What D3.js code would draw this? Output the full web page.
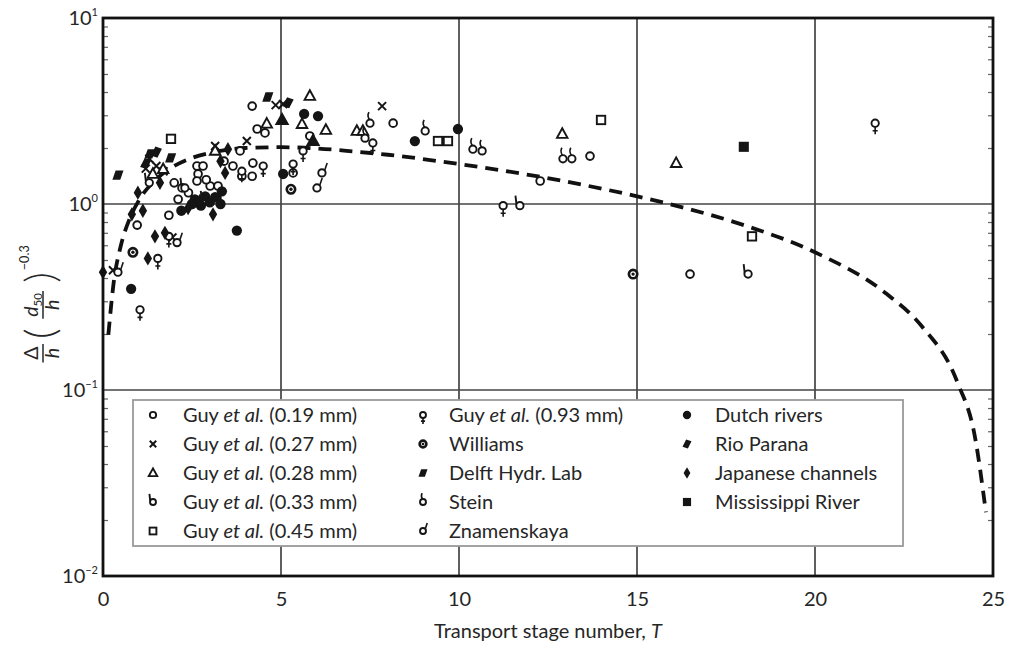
<!DOCTYPE html>
<html><head><meta charset="utf-8">
<script src="https://cdn.jsdelivr.net/npm/d3@7"></script>
<style>
html,body{margin:0;padding:0;background:#fff;}
svg{display:block;font-family:Lato,"Open Sans",sans-serif;}
</style></head>
<body><svg id="chart" width="1015" height="646"></svg>
<script>
// ---- data (T, Δ/h (d50/h)^-0.3) ----
const xTicks = [0, 5, 10, 15, 20, 25];
const yTicks = [10, 1, 0.1, 0.01];
const yTickExp = ["1", "0", "\u22121", "\u22122"];
const xLabel = "Transport stage number, ";
const xLabelItalic = "T";

const curvePts = [[0.15,0.198],[0.3,0.378],[0.5,0.596],[0.75,0.834],[1,1.04],[1.5,1.36],[2,1.60],[2.5,1.77],[3,1.88],[4,2.0],[5,2.02],[6,1.99],[7,1.92],[8,1.84],[10,1.64],[12,1.43],[14,1.21],[16,0.99],[18,0.77],[20,0.55],[22,0.33],[23,0.22],[24,0.11],[24.5,0.055],[24.8,0.022]];

const guy019 = [[0.96,0.77],[1.85,0.87],[2.22,1.22],[2.11,1.06],[2.64,1.60],[2.81,1.60],[2.67,1.45],[2.64,1.33],[3.01,1.25],[3.23,1.25],[3.20,1.08],[3.65,1.60],[3.85,1.93],[4.21,1.66],[3.90,1.41],[4.19,1.41],[4.55,2.41],[4.33,2.53],[4.19,3.36],[5.34,1.47],[5.81,2.32],[8.15,2.72],[12.28,1.33],[13.68,1.81],[16.49,0.42],[2.4,1.15],[2.0,1.3],[3.4,1.7],[2.9,1.35]];
const guy027 = [[5.06,3.45],[4.85,3.4],[7.84,3.36],[0.28,0.44],[3.15,2.05],[4.04,2.18],[1.3,1.75],[1.5,1.6],[1.7,1.5],[1.2,1.55],[1.95,0.66]];
const guy028 = [[5.81,3.81],[6.26,2.50],[5.59,2.69],[7.13,2.47],[7.30,2.47],[12.9,2.38],[16.1,1.66],[1.69,1.54],[3.15,1.93],[1.4,1.45],[4.6,2.7]];
const guy028Dense = [[5.03,2.83],[5.90,2.18]];
const guy033 = [[11.71,0.98],[18.12,0.42],[2.87,1.04],[2.30,1.22],[1.3,1.3]];
const guy045 = [[1.91,2.24],[9.41,2.18],[9.69,2.18],[13.99,2.83],[18.23,0.67]];
const guy093 = [[1.04,0.27],[1.54,0.51],[1.85,0.67],[5.62,1.93],[5.34,1.64],[7.58,2.13],[11.24,0.98],[21.69,2.72],[3.9,1.5],[4.5,1.6]];
const williams = [[5.28,1.20],[14.89,0.42],[0.84,0.55]];
const delft = [[0.42,1.43],[4.63,3.76],[1.32,1.86],[1.9,1.77]];
const rioParana = [[1.5,1.9],[1.2,1.65],[5.2,3.5]];
const stein = [[7.5,2.72],[7.36,2.26],[9.05,2.47],[10.39,1.97],[10.65,1.93],[12.92,1.75],[13.17,1.75]];
const znamenskaya = [[0.42,0.43],[2.08,0.62],[6.15,1.47],[6.01,1.22]];
const dutch = [[5.65,3.05],[6.04,2.97],[5.06,1.45],[0.79,0.35],[3.76,0.72],[8.76,2.18],[9.97,2.53],[2.58,1.06],[2.87,1.10],[3.15,1.09],[3.34,1.17],[2.5,1.0],[2.75,0.98],[3.0,1.02],[3.3,1.0],[2.2,0.92]];
const japanese = [[0.98,1.15],[0.81,0.88],[1.12,0.92],[1.46,0.67],[1.74,0.70],[1.26,0.51],[3.09,0.88],[3.43,1.47],[2.39,0.95],[3.51,1.97],[0,0.43],[2.72,1.04],[1.6,1.3],[3.3,1.7]];
const mississippi = [[18.0,2.03]];

const legendItems = [
  {sym:"circle", pre:"Guy ", it:"et al.", post:" (0.19 mm)"},
  {sym:"cross", pre:"Guy ", it:"et al.", post:" (0.27 mm)"},
  {sym:"triangle", pre:"Guy ", it:"et al.", post:" (0.28 mm)"},
  {sym:"b", pre:"Guy ", it:"et al.", post:" (0.33 mm)"},
  {sym:"square", pre:"Guy ", it:"et al.", post:" (0.45 mm)"},
  {sym:"pin", pre:"Guy ", it:"et al.", post:" (0.93 mm)"},
  {sym:"williams", pre:"Williams", it:"", post:""},
  {sym:"delft", pre:"Delft Hydr. Lab", it:"", post:""},
  {sym:"stein", pre:"Stein", it:"", post:""},
  {sym:"znam", pre:"Znamenskaya", it:"", post:""},
  {sym:"dutch", pre:"Dutch rivers", it:"", post:""},
  {sym:"rio", pre:"Rio Parana", it:"", post:""},
  {sym:"japanese", pre:"Japanese channels", it:"", post:""},
  {sym:"miss", pre:"Mississippi River", it:"", post:""}
];

// ---- setup ----
const svg = d3.select("#chart");
const X0 = 103, X1 = 993, Y0 = 18, Y1 = 576;
const x = d3.scaleLinear().domain([0, 25]).range([X0, X1]);
const y = d3.scaleLog().domain([0.01, 10]).range([Y1, Y0]);
const ink = "#151515";
const txt = "#262626";

// grid
const grid = svg.append("g").attr("stroke", "#444").attr("stroke-width", 1.7);
grid.selectAll("line.v").data([5,10,15,20]).join("line")
  .attr("x1", d => x(d)).attr("x2", d => x(d)).attr("y1", Y0).attr("y2", Y1);
grid.selectAll("line.h").data([1, 0.1]).join("line")
  .attr("y1", d => y(d)).attr("y2", d => y(d)).attr("x1", X0).attr("x2", X1);

// minor ticks (inside, both sides)
const minor = [];
[0.01, 0.1, 1].forEach(b => { for (let k = 2; k <= 9; k++) minor.push(b * k); });
svg.append("g").attr("transform", `translate(${X0},0)`)
  .call(d3.axisRight(y).tickValues(minor).tickSize(5).tickFormat(""))
  .call(g => g.select(".domain").remove())
  .selectAll("line").attr("stroke", "#666").attr("stroke-width", 1.2);
svg.append("g").attr("transform", `translate(${X1},0)`)
  .call(d3.axisLeft(y).tickValues(minor).tickSize(5).tickFormat(""))
  .call(g => g.select(".domain").remove())
  .selectAll("line").attr("stroke", "#666").attr("stroke-width", 1.2);

// y major labels
const yAx = svg.append("g").attr("transform", `translate(${X0},0)`)
  .call(d3.axisLeft(y).tickValues(yTicks).tickSize(0).tickPadding(5).tickFormat(""));
yAx.select(".domain").remove();
yAx.selectAll(".tick text").each(function(d, i) {
  const t = d3.select(this).attr("font-family", "Lato, sans-serif").attr("font-size", 20).attr("fill", txt).attr("dy", "0.3em");
  t.append("tspan").text("10");
  t.append("tspan").attr("dy", -9).attr("font-size", 11).text(yTickExp[i]);
});

// x labels
const xAx = svg.append("g").attr("transform", `translate(0,${Y1})`)
  .call(d3.axisBottom(x).tickValues(xTicks).tickSize(0).tickPadding(16));
xAx.select(".domain").remove();
xAx.selectAll(".tick text").attr("font-family", "Lato, sans-serif").attr("font-size", 20).attr("fill", txt);

svg.append("text").attr("x", 548).attr("y", 638).attr("text-anchor", "middle")
  .attr("font-size", 20).attr("fill", txt)
  .call(t => { t.append("tspan").text(xLabel); t.append("tspan").attr("font-style", "italic").text(xLabelItalic); });

// y label (rotated math expression)
const yl = svg.append("g").attr("transform", "translate(43,298) rotate(-90) scale(1.15)").attr("fill", txt);
yl.append("text").attr("x", -48).attr("y", -4).attr("text-anchor", "middle").attr("font-size", 17).text("\u0394");
yl.append("line").attr("x1", -56).attr("x2", -40).attr("y1", 0).attr("y2", 0).attr("stroke", txt).attr("stroke-width", 1.3);
yl.append("text").attr("x", -48).attr("y", 14).attr("text-anchor", "middle").attr("font-size", 17).attr("font-style", "italic").text("h");
yl.append("text").attr("x", -31).attr("y", 10).attr("text-anchor", "middle").attr("font-size", 36).attr("font-weight", 300).text("(");
yl.append("text").attr("x", -6).attr("y", -4).attr("text-anchor", "middle").attr("font-size", 17)
  .call(t => { t.append("tspan").attr("font-style", "italic").text("d"); t.append("tspan").attr("font-size", 10).attr("dy", 3).text("50"); });
yl.append("line").attr("x1", -18).attr("x2", 6).attr("y1", 0).attr("y2", 0).attr("stroke", txt).attr("stroke-width", 1.3);
yl.append("text").attr("x", -6).attr("y", 14).attr("text-anchor", "middle").attr("font-size", 17).attr("font-style", "italic").text("h");
yl.append("text").attr("x", 18).attr("y", 10).attr("text-anchor", "middle").attr("font-size", 36).attr("font-weight", 300).text(")");
yl.append("text").attr("x", 35).attr("y", -12).attr("text-anchor", "middle").attr("font-size", 11).text("\u22120.3");

// marker drawing
function marker(g, type, s) {
  s = s || 1;
  const st = (sel, w) => sel.attr("stroke", ink).attr("stroke-width", w || 1.9);
  const ring = (r) => st(g.append("circle").attr("r", r * s).attr("fill", "white"));
  switch (type) {
    case "circle": ring(3.7); break;
    case "cross": st(g.append("path").attr("d", `M${-3.8*s},${-3.8*s}L${3.8*s},${3.8*s}M${-3.8*s},${3.8*s}L${3.8*s},${-3.8*s}`), 2); break;
    case "triangle": st(g.append("path").attr("d", `M0,${-5.4*s}L${5*s},${3.7*s}L${-5*s},${3.7*s}Z`).attr("fill", "white")); break;
    case "triangleFilled": st(g.append("path").attr("d", `M0,${-5.8*s}L${5.4*s},${3.9*s}L${-5.4*s},${3.9*s}Z`).attr("fill", ink)); break;
    case "b": st(g.append("path").attr("d", `M${-3.2*s},${-1*s}L${-4.2*s},${-9.5*s}`).attr("fill", "none")); ring(3.5); break;
    case "square": st(g.append("rect").attr("x", -4*s).attr("y", -4*s).attr("width", 8*s).attr("height", 8*s).attr("fill", "white")); break;
    case "pin": st(g.append("path").attr("d", `M0,${3.4*s}L0,${10.5*s}M${-2.4*s},${7.2*s}L${2.4*s},${7.2*s}`).attr("fill", "none"), 1.6); ring(3.5); break;
    case "williams": st(g.append("circle").attr("r", 4*s).attr("fill", "white"), 2.6); g.append("circle").attr("r", 1.6*s).attr("fill", ink); break;
    case "delft": g.append("path").attr("d", `M${-2.2*s},${-4.5*s}L${5.3*s},${-4.5*s}L${2.2*s},${4.5*s}L${-5.3*s},${4.5*s}Z`).attr("fill", ink); break;
    case "rio": g.append("path").attr("d", `M${-1*s},${-5.3*s}L${5.3*s},${-3.2*s}L${1*s},${5.3*s}L${-5.3*s},${3.2*s}Z`).attr("fill", ink); break;
    case "stein": st(g.append("path").attr("d", `M${-0.5*s},${-3.4*s}Q${-3*s},${-7*s} ${-1*s},${-10.5*s}`).attr("fill", "none"), 1.6); ring(3.5); break;
    case "znam": st(g.append("path").attr("d", `M${2.6*s},${-2.4*s}L${5*s},${-9.5*s}`).attr("fill", "none"), 1.6); ring(3.5); break;
    case "dutch": g.append("circle").attr("r", 4.9*s).attr("fill", ink); break;
    case "japanese": g.append("path").attr("d", `M0,${-6.8*s}L${4*s},0L0,${6.8*s}L${-4*s},0Z`).attr("fill", ink); break;
    case "miss": g.append("rect").attr("x", -4.8*s).attr("y", -4.8*s).attr("width", 9.6*s).attr("height", 9.6*s).attr("fill", ink); break;
  }
}

// dashed curve
svg.append("path").datum(curvePts)
  .attr("d", d3.line().x(d => x(d[0])).y(d => y(d[1])).curve(d3.curveMonotoneX))
  .attr("fill", "none").attr("stroke", "#111").attr("stroke-width", 3.8)
  .attr("stroke-dasharray", "13,8");

// points
const seriesList = [
  [guy019, "circle"], [guy027, "cross"], [guy028, "triangle"], [guy028Dense, "triangleFilled"],
  [guy033, "b"], [guy045, "square"], [guy093, "pin"], [williams, "williams"],
  [delft, "delft"], [rioParana, "rio"], [stein, "stein"], [znamenskaya, "znam"],
  [dutch, "dutch"], [japanese, "japanese"], [mississippi, "miss"]
];
seriesList.forEach(([data, type]) => {
  svg.append("g").selectAll("g").data(data).join("g")
    .attr("transform", d => `translate(${x(d[0])},${y(d[1])})`)
    .each(function() { marker(d3.select(this), type, 1.05); });
});

// frame
svg.append("rect").attr("x", X0).attr("y", Y0).attr("width", X1 - X0).attr("height", Y1 - Y0)
  .attr("fill", "none").attr("stroke", "#111").attr("stroke-width", 2.8);

// legend
const lg = svg.append("g");
lg.append("rect").attr("x", 133).attr("y", 400).attr("width", 770).attr("height", 146)
  .attr("fill", "white").attr("stroke", "#9a9a9a").attr("stroke-width", 1.8);
const colSym = [153, 423, 687], colTxt = [183, 449, 715];
const perCol = [5, 5, 4];
let idx = 0;
perCol.forEach((n, c) => {
  for (let r = 0; r < n; r++, idx++) {
    const it = legendItems[idx];
    const cy = 415 + r * 29;
    const mg = lg.append("g").attr("transform", `translate(${colSym[c]},${cy})`);
    marker(mg, it.sym, 0.85);
    const t = lg.append("text").attr("x", colTxt[c]).attr("y", cy + 6.5).attr("font-size", 20).attr("fill", txt);
    t.append("tspan").text(it.pre);
    if (it.it) t.append("tspan").attr("font-style", "italic").text(it.it);
    if (it.post) t.append("tspan").text(it.post);
  }
});
</script>
</body></html>
